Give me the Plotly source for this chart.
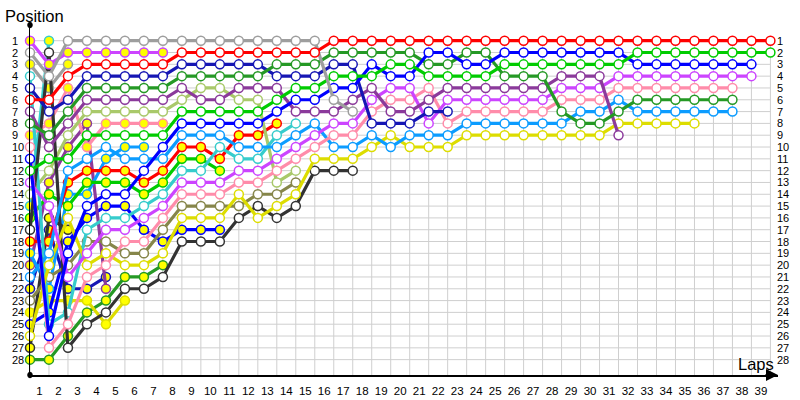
import plotly.graph_objects as go

# ---------------- data: position of each car at each lap (lap 0 = grid) ----------------
red_w     = [6,6,4,3,3,3,3,3,2,2,2,2,2,2,2,2,1,1,1,1,1,1,1,1,1,1,1,1,1,1,1,1,1,1,1,1,1,1,1,1]
gray_w    = [2,4,1,1,1,1,1,1,1,1,1,1,1,1,1,1,6,7]
gray_y    = [3,5,3]
violet_y  = [1,3,2,2,2,2,2,2]
teal_y    = [15,1]
teal_w    = [4,25,24,17,16,16,15,14,12,12,10,11,11,9,8]
navy_w    = [5,7,6,4,4,4,4,4,3,3,3,3,3,4,4,4,3,3,8,8,8,7,7]
dkgreen_w = [8,9,7,5,5,5,5,5,4,4,4,4,4,3,3,3,2,2,2,2,2,3,3,2,2,4,4,4,7,8,8,7,6,6,6,6,6,6]
purple_w  = [7,10,8,6,6,6,6,6,5,6,6,5,5,5,7,7,7,6,5,7,7,6,5,5,5,5,5,5,4,4,4,9]
pink_y    = [9,8,5,10,8,8,8,8]
pink_w    = [10,27,25,21,20,18,18,16,14,14,14,13,13,12,11,10,9,9,7,6,6,5,8,7,7,7,7,7,6,6,6,5,5,5,5,5,5,5]
blue_w    = [11,26,19,15,14,14,12,10,8,8,8,8,8,7,6,6,5,5,3,4,4,2,2,3,3,2,2,2,2,2,2,2,3,3,3,3,3,3,3]
green_w   = [12,11,11,9,9,9,9,9,7,7,7,7,7,6,5,5,4,4,4,3,3,4,4,4,4,3,3,3,3,3,3,3,2,2,2,2,2,2,2,2]
violet_w  = [13,15,21,19,17,17,16,15,13,13,13,12,12,11,10,9,8,8,6,5,5,8,6,6,6,6,6,6,5,5,5,4,4,4,4,4,4,4,4]
ltgreen_w = [14,12,9,7,7,7,7,7,6,5,5,6,6,13,12]
green_y   = [16,14,15,13,13,13,14,13,11,11,12]
dark_w    = [17,2,27,25,24,22,22,21,18,18,18,16,15,16,15,12,12,12]
dark_y    = [27,16,17]
red_y     = [18,18,13,12,12,12,13,12,10,10,11,9,9,8]
ltblue_y  = [19,22,14,14,11,10,10]
purple_y  = [20,13,10,8,22]
ltblue_w  = [21,19,12,11,10,11,11,11,9,9,9,10,10,10,9,8,10,10,9,10,9,9,9,8,8,8,8,8,8,7,7,6,7,7,7,7,7,7]
navy_y    = [22,17,22,22,21]
olive_w   = [23,21,20,18,18,19,19,17,15,15,15,15,14,14,13]
yellow_y  = [24,23,23,23,25,23]
blue_y    = [25,24,18,16,15,15,17,18,17,17,17]
yellow_w  = [26,20,16,20,19,20,20,19,16,16,16,14,16,15,14,11,11,11,10,9,10,10,10,9,9,9,9,9,9,9,9,8,8,8,8,8]
dkgreen_y = [28,28,26,24,23,21,21,20]

lap_labels = [str(i) for i in range(1, 40)]
pos_labels = [str(i) for i in range(1, 29)]

# ---------------- styles ----------------
RED, GRAY, NAVY, BLUE = "#ff0000", "#9e9e9e", "#1616b4", "#0000ff"
DKGREEN, GREEN, PURPLE, VIOLET = "#259925", "#00cc00", "#8b3a9b", "#cc44ff"
LTGREEN, PINK, LTBLUE, TEAL = "#a9c96a", "#ff8caa", "#0c9cff", "#36cccc"
OLIVE, YELLOW, DARK = "#86864a", "#dddd00", "#333333"
WF, YF = "#ffffff", "#ffff00"

series = [
    (dkgreen_y, DKGREEN, YF), (yellow_y, YELLOW, YF), (blue_y, BLUE, YF),
    (navy_y, NAVY, YF), (purple_y, PURPLE, YF), (ltblue_y, LTBLUE, YF),
    (dark_y, DARK, YF), (green_y, GREEN, YF), (red_y, RED, YF),
    (teal_y, TEAL, YF), (gray_y, GRAY, YF), (pink_y, PINK, YF),
    (olive_w, OLIVE, WF), (ltgreen_w, LTGREEN, WF), (teal_w, TEAL, WF),
    (dark_w, DARK, WF), (yellow_w, YELLOW, WF), (ltblue_w, LTBLUE, WF),
    (pink_w, PINK, WF), (violet_w, VIOLET, WF), (purple_w, PURPLE, WF),
    (navy_w, NAVY, WF), (dkgreen_w, DKGREEN, WF), (blue_w, BLUE, WF),
    (green_w, GREEN, WF), (violet_y, VIOLET, YF), (gray_w, GRAY, WF),
    (red_w, RED, WF),
]

fig = go.Figure()

XMAX = 39.4
YTOP, YBOT = -0.33, 29.3

# grid lines
shapes = []
for lap in range(0, 40):
    shapes.append(dict(type="line", xref="x", yref="y", x0=lap, x1=lap, y0=1, y1=YBOT,
                       line=dict(color="#cfcfcf", width=1), layer="below"))
for p in range(1, 29):
    shapes.append(dict(type="line", xref="x", yref="y", x0=0, x1=39, y0=p, y1=p,
                       line=dict(color="#cfcfcf", width=1), layer="below"))
# axis end dots
shapes.append(dict(type="circle", xref="paper", yref="paper", x0=-0.003, x1=0.003, y0=0.992, y1=1.008,
                   fillcolor="black", line=dict(color="black", width=1)))
shapes.append(dict(type="circle", xref="paper", yref="paper", x0=-0.003, x1=0.003, y0=-0.008, y1=0.008,
                   fillcolor="black", line=dict(color="black", width=1)))

for pos, color, fill in series:
    fig.add_trace(go.Scatter(
        x=list(range(len(pos))), y=pos, mode="lines+markers",
        line=dict(color=color, width=3.2),
        marker=dict(size=9, color=fill, line=dict(color=color, width=1.5)),
        cliponaxis=False, showlegend=False, hoverinfo="skip"))

FONT = "Liberation Sans"
annotations = []
for i, t in enumerate(pos_labels):
    annotations.append(dict(text=t, xref="paper", yref="y", x=0, y=i + 1, xanchor="left",
                            xshift=-20, showarrow=False, font=dict(family=FONT, size=11, color="black")))
    annotations.append(dict(text=t, xref="paper", yref="y", x=1, y=i + 1, xanchor="left",
                            xshift=-3, showarrow=False, font=dict(family=FONT, size=11, color="black")))
annotations.append(dict(text="Position", xref="paper", yref="paper", x=0, y=1, xanchor="left",
                        yanchor="bottom", xshift=-27, yshift=-2, showarrow=False,
                        font=dict(family="Liberation Sans", size=16.5, color="black")))
annotations.append(dict(text="Laps", xref="paper", yref="paper", x=1, y=0, xanchor="right",
                        yanchor="bottom", xshift=-2, yshift=0, showarrow=False,
                        font=dict(family="Liberation Sans", size=16.5, color="black")))
annotations.append(dict(text="", xref="paper", yref="paper", x=1.0, y=0, ax=-14, ay=0,
                        showarrow=True, arrowhead=2, arrowsize=1.2, arrowwidth=2, arrowcolor="black"))

fig.update_layout(
    width=800, height=400,
    margin=dict(l=30, r=22, t=25, b=25, autoexpand=False),
    plot_bgcolor="white", paper_bgcolor="white",
    shapes=shapes, annotations=annotations,
    xaxis=dict(range=[0, XMAX], showgrid=False, zeroline=False, showline=True,
               linecolor="black", linewidth=2, ticks="", ticklabelstandoff=4,
               tickvals=[i + 0.5 for i in range(39)], ticktext=lap_labels,
               tickfont=dict(family=FONT, size=11.5, color="black")),
    yaxis=dict(range=[YBOT, YTOP], showgrid=False, zeroline=False, showline=True,
               linecolor="black", linewidth=1.5, showticklabels=False, ticks=""),
)

fig.write_html("out.html", config={"displayModeBar": False, "staticPlot": True},
               post_script="document.body.style.margin='0px';document.body.style.overflow='hidden';")
